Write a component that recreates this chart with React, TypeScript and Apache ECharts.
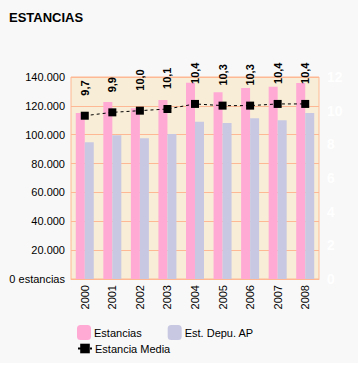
import React, { useEffect, useRef } from "react";
import * as echarts from "echarts";

const years = ["2000", "2001", "2002", "2003", "2004", "2005", "2006", "2007", "2008"];
const estancias = [115100, 122600, 118400, 124000, 136000, 129500, 132300, 133200, 135800];
const estDepuAP = [94700, 99600, 97500, 100500, 108900, 108200, 111400, 110000, 115100];
const estanciaMedia = [9.7, 9.9, 10.0, 10.1, 10.4, 10.3, 10.3, 10.4, 10.4];

const FONT = "Liberation Sans, Arial, sans-serif";
const GRID = "#FFB894";

export default function App() {
  const ref = useRef<HTMLDivElement>(null);
  useEffect(() => {
    if (!ref.current) return;
    const chart = echarts.init(ref.current, null, { renderer: "svg" });
    chart.setOption({
      animation: false,
      backgroundColor: "#FFFFFF",
      textStyle: { fontFamily: FONT },
      graphic: [
        { type: "rect", left: 0, top: 0, shape: { width: 358, height: 363 }, style: { fill: "#F8F8F8" }, z: -10, silent: true },
      ],
      title: {
        text: "ESTANCIAS",
        left: 4,
        top: 6,
        textStyle: { fontFamily: FONT, fontSize: 13, fontWeight: "bold", color: "#000" },
      },
      legend: [
        {
          data: ["Estancias", "Est. Depu. AP"],
          left: 77,
          top: 325,
          itemWidth: 14,
          itemHeight: 15,
          itemGap: 26,
          padding: 0,
          textStyle: { fontFamily: FONT, fontSize: 11, color: "#000", padding: [0, 0, 0, -2] },
        },
        {
          data: ["Estancia Media"],
          left: 77,
          top: 343,
          itemWidth: 14,
          itemHeight: 12,
          padding: 0,
          textStyle: { fontFamily: FONT, fontSize: 11, color: "#000", padding: [0, 0, 0, -2] },
        },
      ],
      grid: {
        left: 71,
        right: 41,
        top: 77,
        bottom: 87,
        show: true,
        backgroundColor: "#F8EDD6",
        borderColor: GRID,
        borderWidth: 1,
      },
      xAxis: {
        type: "category",
        data: years,
        axisLine: { show: true, lineStyle: { color: GRID } },
        axisTick: { show: false },
        axisLabel: { rotate: 90, fontSize: 11, color: "#000", fontFamily: FONT, margin: 6 },
      },
      yAxis: [
        {
          type: "value",
          min: 0,
          max: 140000,
          interval: 20000,
          axisLine: { show: false },
          axisTick: { show: false },
          splitLine: { show: true, lineStyle: { color: GRID, width: 1 } },
          axisLabel: {
            fontSize: 11,
            color: "#000",
            fontFamily: FONT,
            margin: 6,
            formatter: (v: number) =>
              v === 0 ? "0 estancias" : String(v).replace(/\B(?=(\d{3})+(?!\d))/g, "."),
          },
        },
        {
          type: "value",
          min: 0,
          max: 12,
          interval: 2,
          position: "right",
          axisLine: { show: false },
          axisTick: { show: false },
          splitLine: { show: false },
          axisLabel: { fontSize: 14, fontWeight: "bold", color: "#FFFFFF", fontFamily: FONT, margin: 8 },
        },
      ],
      series: [
        {
          name: "Estancias",
          type: "bar",
          data: estancias,
          barWidth: 9,
          barGap: "0%",
          itemStyle: { color: "#FFAAD5" },
        },
        {
          name: "Est. Depu. AP",
          type: "bar",
          data: estDepuAP,
          barWidth: 9,
          barGap: "0%",
          itemStyle: { color: "#C8C8E2" },
        },
        {
          name: "Estancia Media",
          type: "line",
          yAxisIndex: 1,
          data: estanciaMedia,
          symbol: "rect",
          symbolSize: 8,
          itemStyle: { color: "#000" },
          lineStyle: { color: "#000", width: 1, type: [3, 3] },
          label: {
            show: true,
            position: "top",
            distance: 16,
            rotate: 90,
            align: "left",
            verticalAlign: "middle",
            fontFamily: FONT,
            fontSize: 11,
            fontWeight: "bold",
            color: "#000",
            formatter: (p: any) => Number(p.value).toFixed(1).replace(".", ","),
          },
          z: 5,
        },
      ],
    });
    return () => chart.dispose();
  }, []);
  return (
    <div
      ref={ref}
      style={{ position: "absolute", left: 0, top: 0, width: 360, height: 366 }}
    />
  );
}
